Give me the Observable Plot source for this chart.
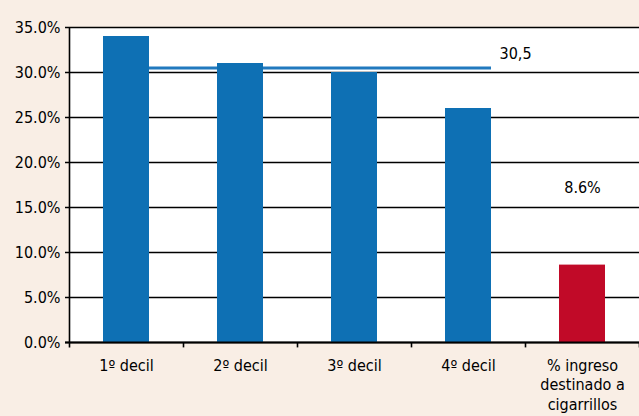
<!DOCTYPE html>
<html>
<head>
<meta charset="utf-8">
<script src="https://cdn.jsdelivr.net/npm/d3@7"></script>
<script src="https://cdn.jsdelivr.net/npm/@observablehq/plot@0.6"></script>
<style>
  html, body { margin: 0; padding: 0; background: #f9eee5; }
  #chart { width: 639px; height: 416px; overflow: hidden; }
  svg { font-family: "DejaVu Sans Condensed", "Liberation Sans Narrow", "Liberation Sans", sans-serif; }
</style>
</head>
<body>
<div id="chart"></div>
<script>
const categories = ["1º decil", "2º decil", "3º decil", "4º decil", "% ingreso destinado a cigarrillos"];
const values = [34.0, 31.0, 30.0, 26.0, 8.6];
const barColors = ["#0e70b4", "#0e70b4", "#0e70b4", "#0e70b4", "#c10a28"];
const yTicks = [0, 5, 10, 15, 20, 25, 30, 35];
const averageValue = 30.5;
const averageLabel = "30,5";
const shareLabel = "8.6%";
const xLabelLines = [["1º decil"], ["2º decil"], ["3º decil"], ["4º decil"], ["% ingreso", "destinado a", "cigarrillos"]];

const data = categories.map((c, i) => ({cat: c, value: values[i], color: barColors[i]}));
const labelData = categories.map((c, i) => ({cat: c, text: xLabelLines[i].join("\n")}));

const FS = 16;

const chart = Plot.plot({
  width: 639,
  height: 416,
  marginLeft: 69,
  marginRight: 0,
  marginTop: 27,
  marginBottom: 74,
  style: {background: "transparent", fontSize: FS + "px", overflow: "visible"},
  x: {domain: categories, paddingInner: 0.6, paddingOuter: 0.3, axis: null},
  y: {domain: [0, 35], axis: null},
  marks: [
    Plot.frame({fill: "white", stroke: "none"}),
    Plot.ruleY(yTicks, {stroke: "black", strokeWidth: 1.5, insetLeft: -4}),
    Plot.ruleY([averageValue], {y: d => d, x1: () => categories[0], x2: () => categories[3], stroke: "#2179be", strokeWidth: 3}),
    Plot.barY(data, {x: "cat", y: "value", fill: "color"}),
    Plot.text([averageLabel], {x: () => categories[3], y: () => averageValue, text: d => d, textAnchor: "start", dx: 31, dy: -14, fontSize: FS, fill: "black"}),
    Plot.text([shareLabel], {x: () => categories[4], y: () => values[4], text: d => d, dy: -77, fontSize: FS, fill: "black"}),
    // axes lines
    Plot.ruleX([0], {x: () => categories[0], dx: -57, y1: -0.6, y2: 35, stroke: "black", strokeWidth: 1.6}),
    Plot.ruleX(categories, {x: d => d, dx: 57, y1: -0.6, y2: 0, stroke: "black", strokeWidth: 1.6}),
    Plot.ruleY([0], {stroke: "black", strokeWidth: 1.8, insetLeft: -4}),
    Plot.text(yTicks, {y: d => d, frameAnchor: "left", dx: -9, textAnchor: "end", text: d => d.toFixed(1) + "%", fontSize: FS, fill: "black"}),
    Plot.text(labelData, {x: "cat", y: () => 0, text: "text", dy: 15, lineAnchor: "top", lineHeight: 1.2, fontSize: FS, fill: "black"})
  ]
});
document.getElementById("chart").appendChild(chart);
</script>
</body>
</html>
